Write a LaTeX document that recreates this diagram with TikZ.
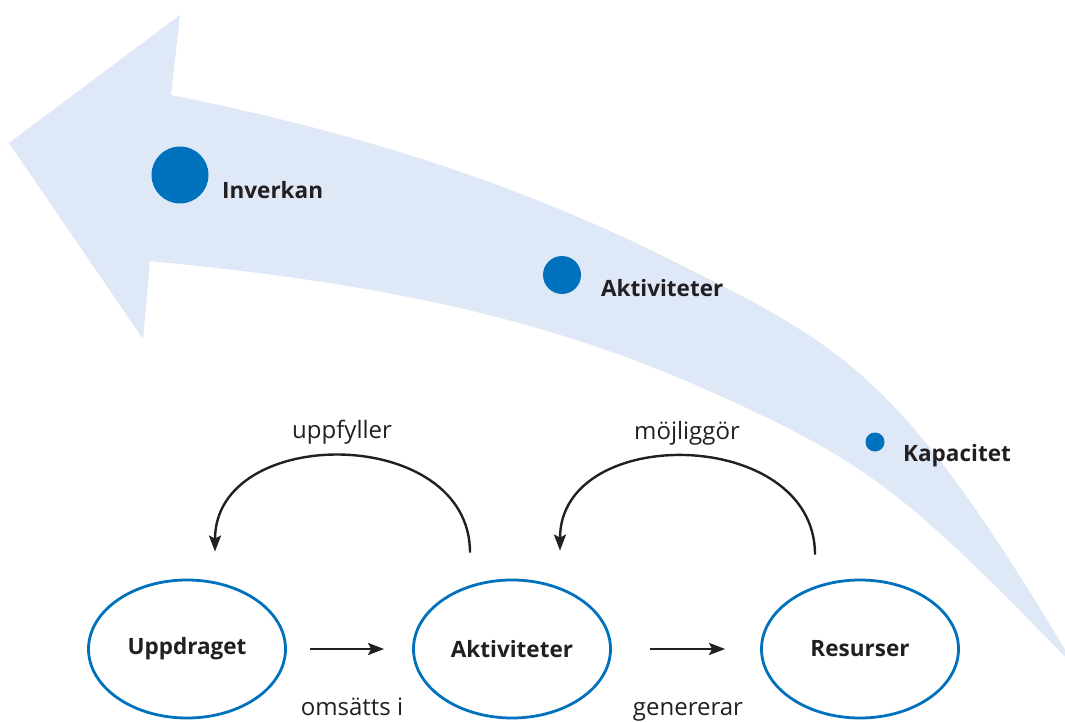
\documentclass[tikz,border=0pt]{standalone}
\usepackage{fontspec}
\setmainfont{Open Sans}
\usepackage{tikz}
\usetikzlibrary{positioning,shapes.geometric,arrows.meta,calc}
\definecolor{bandblue}{HTML}{DFE8F6}
\definecolor{dotblue}{HTML}{0071BC}
\definecolor{txt}{HTML}{231F20}
\tikzset{
        x=1pt, y=-1pt, % one unit is one pixel, y runs down
        >={Stealth[length=16pt,width=12pt,inset=3pt]}, % arrow heads
        stage/.style={ellipse, draw=dotblue, line width=2.8pt, minimum width=197pt, minimum height=138pt, text=txt, font=\bfseries\fontsize{22.5}{26}\selectfont},
        dot/.style={circle, fill=dotblue, inner sep=0pt},
        dotlabel/.style={anchor=base west, inner sep=0pt, text=txt, font=\bfseries\fontsize{22.5}{26}\selectfont},
        verb/.style={inner sep=0pt, text=txt, font=\fontsize{24}{28}\selectfont},
        link/.style={->, draw=txt, line width=2.4pt},
}
\begin{document}
\begin{tikzpicture}
\useasboundingbox (0,0) rectangle (1065,722);
\clip (0,0) rectangle (1065,722);
% the big bent arrow
\fill[bandblue] (9,143) -- (180,15) -- (171,95)
  .. controls (336,128) and (502,176) .. (667,258)
  .. controls (847,348) and (900,372) .. (1076,668) % tail
  .. controls (906,493) and (870,462) .. (700,387)
  .. controls (517,306) and (333,279) .. (150,261)
  -- (143,339) -- cycle;
% dots on the arrow
\node[dot, minimum size=57pt] (dInv) at (180,175) {};
\node[dot, minimum size=38pt] (dAkt) at (562,275) {};
\node[dot, minimum size=19pt] (dKap) at (875,442) {};
\node[dotlabel] (lInv) at (222,199) {Inverkan};
\node[dotlabel] (lAkt) at (601,296) {Aktiviteter};
\node[dotlabel] (lKap) at (903,461) {Kapacitet};
% the three stages
\node[stage] (upp) at (187,649) {Uppdraget};
\node[stage] (akt) at (512,649) {Aktiviteter};
\node[stage] (res) at (860,649) {Resurser};
\draw[link, shorten <=23pt, shorten >=28pt] (upp.east) -- (akt.west);
\draw[link, shorten <=38pt, shorten >=35pt] (akt.east) -- (res.west);
\node[verb, anchor=base] (vOms) at (352,715) {omsätts i};
\node[verb, anchor=base] (vGen) at (688,715) {genererar};
% the loops back
\coordinate (uS) at ($(akt.north)+(-42,-26)$);
\coordinate (uE) at ($(upp.north)+(28,-27)$);
\coordinate (mS) at ($(res.north)+(-45,-24)$);
\coordinate (mE) at ($(akt.north)+(48,-28)$);
\draw[link] (uS) .. controls +(0,-128) and +(0,-128) .. (uE);
\draw[link] (mS) .. controls +(0,-128) and +(0,-128) .. (mE);
\node[verb, anchor=base] (vUpp) at (342,438) {uppfyller};
\node[verb, anchor=base] (vMoj) at (687,439) {möjliggör};
\end{tikzpicture}
\end{document}
